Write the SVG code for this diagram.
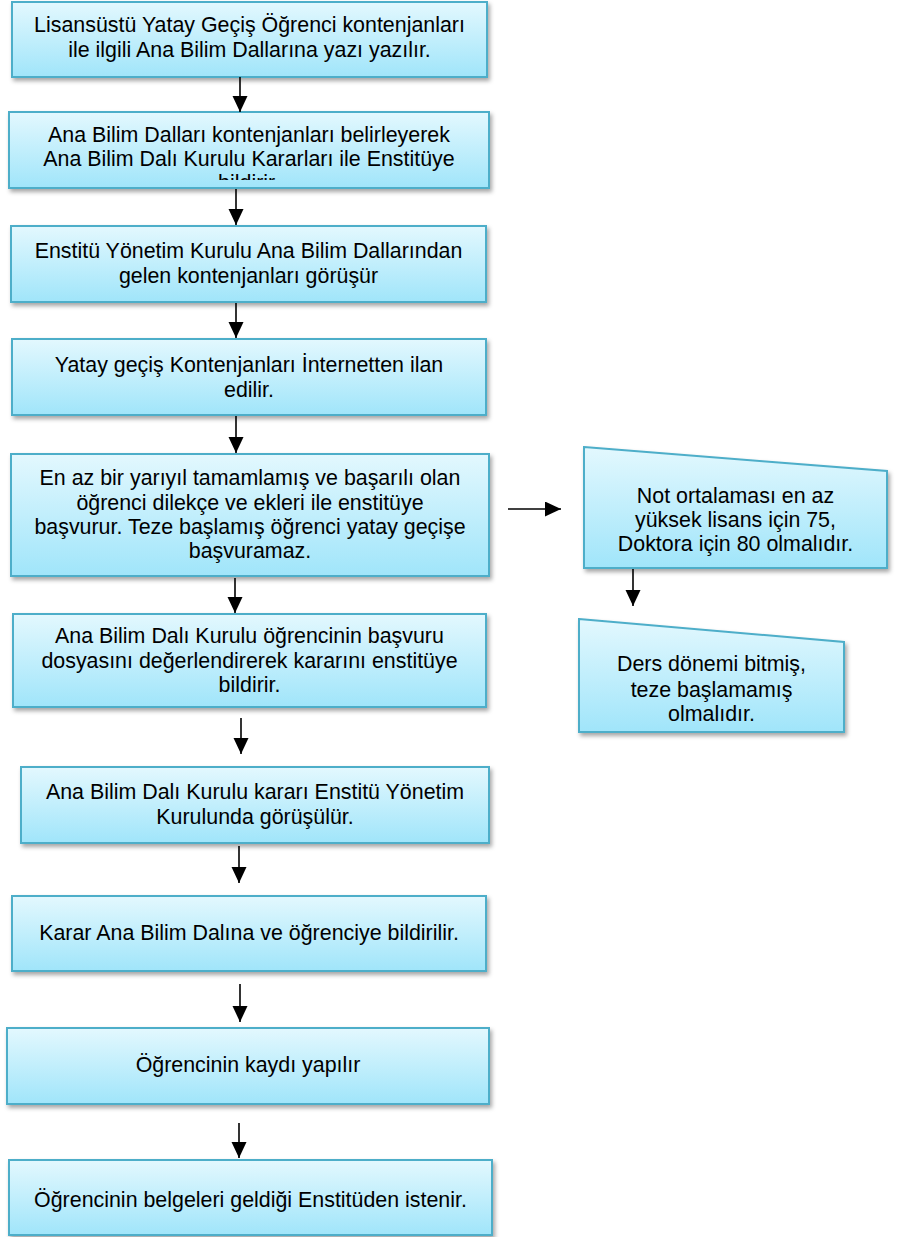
<svg xmlns="http://www.w3.org/2000/svg" width="908" height="1237" viewBox="0 0 908 1237">
<defs>
<linearGradient id="fillG" x1="0" y1="0" x2="0" y2="1">
<stop offset="0" stop-color="#e3f8fe"/>
<stop offset="1" stop-color="#a0e5fa"/>
</linearGradient>
<filter id="sh" x="-5%" y="-10%" width="115%" height="130%">
<feDropShadow dx="2" dy="3" stdDeviation="2" flood-color="#000" flood-opacity="0.35"/>
</filter>
<marker id="ah" markerUnits="userSpaceOnUse" markerWidth="17" markerHeight="16" refX="16" refY="7.5" orient="auto">
<path d="M0,0 L16,7.5 L0,15 z" fill="#000"/>
</marker>
<clipPath id="clip2"><rect x="9" y="112" width="480" height="68"/></clipPath>
</defs>
<style>
.box{fill:url(#fillG);stroke:#4eaec9;stroke-width:2;filter:url(#sh);}
.t{font-family:"Liberation Sans",Arial,sans-serif;font-size:21.4px;fill:#000;text-anchor:middle;}
.c{stroke:#000;stroke-width:1.6;fill:none;marker-end:url(#ah);}
</style>
<rect width="908" height="1237" fill="#fff"/>

<g id="n1">
<rect class="box" x="12" y="2" width="475" height="75"/>
<text class="t" x="249.5" y="32">Lisansüstü Yatay Geçiş Öğrenci kontenjanları</text>
<text class="t" x="249.5" y="57">ile ilgili Ana Bilim Dallarına yazı yazılır.</text>
</g>

<g id="n2">
<rect class="box" x="9" y="112" width="480" height="76"/>
<g clip-path="url(#clip2)">
<text class="t" x="249" y="142">Ana Bilim Dalları kontenjanları belirleyerek</text>
<text class="t" x="249" y="166">Ana Bilim Dalı Kurulu Kararları ile Enstitüye</text>
<text class="t" x="249" y="190">bildirir.</text>
</g>
</g>

<g id="n3">
<rect class="box" x="11" y="226" width="475" height="76"/>
<text class="t" x="248.5" y="258">Enstitü Yönetim Kurulu Ana Bilim Dallarından</text>
<text class="t" x="248.5" y="283">gelen kontenjanları görüşür</text>
</g>

<g id="n4">
<rect class="box" x="12" y="339" width="474" height="76"/>
<text class="t" x="249" y="372">Yatay geçiş Kontenjanları İnternetten ilan</text>
<text class="t" x="249" y="397">edilir.</text>
</g>

<g id="n5">
<rect class="box" x="11" y="454" width="478" height="122"/>
<text class="t" x="250" y="485">En az bir yarıyıl tamamlamış ve başarılı olan</text>
<text class="t" x="250" y="510">öğrenci dilekçe ve ekleri ile enstitüye</text>
<text class="t" x="250" y="534">başvurur. Teze başlamış öğrenci yatay geçişe</text>
<text class="t" x="250" y="558">başvuramaz.</text>
</g>

<g id="n6">
<rect class="box" x="13" y="614" width="473" height="93"/>
<text class="t" x="249.5" y="643">Ana Bilim Dalı Kurulu öğrencinin başvuru</text>
<text class="t" x="249.5" y="668">dosyasını değerlendirerek kararını enstitüye</text>
<text class="t" x="249.5" y="692">bildirir.</text>
</g>

<g id="n7">
<rect class="box" x="21" y="767" width="468" height="76"/>
<text class="t" x="255" y="799">Ana Bilim Dalı Kurulu kararı Enstitü Yönetim</text>
<text class="t" x="255" y="824">Kurulunda görüşülür.</text>
</g>

<g id="n8">
<rect class="box" x="12" y="896" width="474" height="75"/>
<text class="t" x="249" y="940">Karar Ana Bilim Dalına ve öğrenciye bildirilir.</text>
</g>

<g id="n9">
<rect class="box" x="7" y="1028" width="482" height="76"/>
<text class="t" x="248" y="1072">Öğrencinin kaydı yapılır</text>
</g>

<g id="n10">
<rect class="box" x="9" y="1160" width="483" height="75"/>
<text class="t" x="250.5" y="1207">Öğrencinin belgeleri geldiği Enstitüden istenir.</text>
</g>

<g id="r1">
<path class="box" d="M584,447 L887,471 L887,568 L584,568 Z"/>
<text class="t" x="735.5" y="503">Not ortalaması en az</text>
<text class="t" x="735.5" y="527">yüksek lisans için 75,</text>
<text class="t" x="735.5" y="551">Doktora için 80 olmalıdır.</text>
</g>

<g id="r2">
<path class="box" d="M579,619 L844,642 L844,732 L579,732 Z"/>
<text class="t" x="711.5" y="671">Ders dönemi bitmiş,</text>
<text class="t" x="711.5" y="697">teze başlamamış</text>
<text class="t" x="711.5" y="721">olmalıdır.</text>
</g>

<g id="connectors">
<line class="c" x1="240" y1="77" x2="240" y2="112"/>
<line class="c" x1="236" y1="189" x2="236" y2="225"/>
<line class="c" x1="236" y1="303" x2="236" y2="338"/>
<line class="c" x1="236" y1="416" x2="236" y2="453"/>
<line class="c" x1="235" y1="578" x2="235" y2="613"/>
<line class="c" x1="241" y1="718" x2="241" y2="754"/>
<line class="c" x1="239" y1="846" x2="239" y2="883"/>
<line class="c" x1="240" y1="984" x2="240" y2="1022"/>
<line class="c" x1="239" y1="1123" x2="239" y2="1158"/>
<line class="c" x1="508" y1="509" x2="561" y2="509"/>
<line class="c" x1="633" y1="569" x2="633" y2="606"/>
</g>
</svg>
